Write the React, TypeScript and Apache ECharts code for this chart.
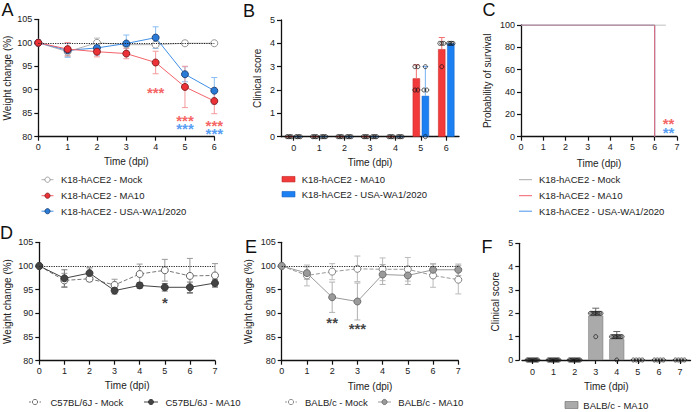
import React, { useEffect, useRef } from 'react';
import * as echarts from 'echarts';

const FONT = '"Liberation Sans", Arial, Helvetica, sans-serif';

// ---------- Panel A : weight change K18-hACE2 ----------
const daysA = [0, 1, 2, 3, 4, 5, 6];
const mockA = [100, 98.1, 100, 99.6, 99.6, 99.9, 99.9];
const mockAErr = [0, 1.0, 1.0, 0.3, 0.3, 0.5, 0.3];
const ma10A = [100, 98.65, 98.1, 97.7, 95.8, 90.6, 87.6];
const ma10AErr = [0, 1.4, 1.1, 1.1, 2.4, 4.4, 2.7];
const waA = [100, 98.4, 98.9, 99.85, 101.1, 93.3, 89.8];
const waAErr = [0, 1.5, 1.5, 1.8, 2.3, 1.6, 2.8];
const starsA = [
  { x: 4, y: 90.0, text: '***', group: 'red' },
  { x: 5, y: 84.2, text: '***', group: 'red' },
  { x: 5, y: 82.3, text: '***', group: 'blue' },
  { x: 6, y: 83.1, text: '***', group: 'red' },
  { x: 6, y: 81.3, text: '***', group: 'blue' },
];
const legendA = ['K18-hACE2 - Mock', 'K18-hACE2 - MA10', 'K18-hACE2 - USA-WA1/2020'];

// ---------- Panel B : clinical score K18-hACE2 ----------
const daysB = ['0', '1', '2', '3', '4', '5', '6'];
const ma10B = [0, 0, 0, 0, 0, 2.5, 3.75];
const ma10BErr = [0, 0, 0, 0, 0, 0.58, 0.5];
const waB = [0, 0, 0, 0, 0, 1.75, 4.0];
const waBErr = [0, 0, 0, 0, 0, 1.26, 0];
const ma10BPoints = [[0, 0, 0, 0], [0, 0, 0, 0], [0, 0, 0, 0], [0, 0, 0, 0], [0, 0, 0, 0], [3, 3, 2, 2], [4, 4, 4, 3]];
const waBPoints = [[0, 0, 0, 0], [0, 0, 0, 0], [0, 0, 0, 0], [0, 0, 0, 0], [0, 0, 0, 0], [3, 2, 2, 0], [4, 4, 4, 4]];
const legendB = ['K18-hACE2 - MA10', 'K18-hACE2 - USA-WA1/2020'];

// ---------- Panel C : survival ----------
const mockC = [[0, 100], [6.5, 100]];
const ma10C = [[0, 100], [6, 100], [6, 0]];
const waC = [[0, 100], [6, 100], [6, 0]];
const starsC = [
  { x: 6.62, y: 14.0, text: '**', group: 'red' },
  { x: 6.62, y: 6.6, text: '**', group: 'blue' },
];
const legendC = ['K18-hACE2 - Mock', 'K18-hACE2 - MA10', 'K18-hACE2 - USA-WA1/2020'];

// ---------- Panel D : C57BL/6J ----------
const daysD = [0, 1, 2, 3, 4, 5, 6, 7];
const mockD = [100, 96.95, 97.3, 96.0, 98.3, 99.1, 97.9, 98.0];
const mockDErr = [0, 1.5, 0.6, 1.2, 2.1, 2.3, 3.7, 2.5];
const ma10D = [100, 97.4, 98.5, 94.8, 95.9, 95.5, 95.5, 96.4];
const ma10DErr = [0, 1.8, 1.1, 0.7, 0.6, 0.8, 1.1, 0.8];
const starsD = [{ x: 5, y: 92.9, text: '*', group: 'black' }];
const legendD = ['C57BL/6J - Mock', 'C57BL/6J - MA10'];

// ---------- Panel E : BALB/c ----------
const daysE = [0, 1, 2, 3, 4, 5, 6, 7];
const mockE = [100, 98.0, 98.8, 99.4, 99.3, 99.3, 98.0, 97.1];
const mockEErr = [0, 2.2, 1.7, 2.7, 2.4, 2.5, 2.5, 3.0];
const ma10E = [100, 98.5, 93.4, 92.5, 98.2, 98.0, 99.2, 99.2];
const ma10EErr = [0, 1.3, 3.2, 3.9, 2.1, 1.9, 1.2, 1.2];
const starsE = [
  { x: 2, y: 88.6, text: '**', group: 'black' },
  { x: 3, y: 87.4, text: '***', group: 'black' },
];
const legendE = ['BALB/c - Mock', 'BALB/c - MA10'];

// ---------- Panel F : clinical score BALB/c ----------
const daysF = ['0', '1', '2', '3', '4', '5', '6', '7'];
const ma10F = [0, 0, 0, 1.9, 0.9, 0, 0, 0];
const ma10FErr = [0, 0, 0, 0.32, 0.32, 0, 0, 0];
const ma10FPoints = [
  [0, 0, 0, 0, 0, 0, 0, 0, 0, 0],
  [0, 0, 0, 0, 0, 0, 0, 0, 0, 0],
  [0, 0, 0, 0, 0, 0, 0, 0, 0, 0],
  [2, 2, 2, 2, 2, 2, 2, 2, 2, 1],
  [1, 1, 1, 1, 1, 1, 1, 1, 1, 0],
  [0, 0, 0, 0],
  [0, 0, 0, 0],
  [0, 0, 0, 0],
];
const legendF = ['BALB/c - MA10'];

const panelLetters = ['A', 'B', 'C', 'D', 'E', 'F'];

// colours
const C = {
  red: '#ec3237', redLine: '#f2636a', redErr: '#f59a9c', redDark: '#7a1a1c',
  blue: '#2a7ad8', blueLine: '#4090e6', blueErr: '#88bdf2', blueDark: '#1c3f70',
  redBar: '#f23a3a', blueBar: '#1d80f2',
  grey: '#b0b0b0', black: '#111111',
};
const starColor: any = { red: '#f23c3c', blue: '#2a84f0', black: '#111111' };

function valueAxis(gridIndex: number, min: number, max: number, interval: number, name: string, nameGap: number, extra: any = {}) {
  return {
    type: 'value', gridIndex, min, max, interval, name, nameGap, nameLocation: 'middle',
    nameTextStyle: { fontSize: 10, color: '#222', fontFamily: FONT },
    axisLine: { show: true, onZero: false, lineStyle: { color: '#111', width: 1.3 } },
    axisTick: { show: true, length: 4, lineStyle: { color: '#111', width: 1.2 } },
    axisLabel: { fontSize: 9, color: '#222', fontFamily: FONT, margin: 6 },
    splitLine: { show: false },
    ...extra,
  };
}
function catAxis(gridIndex: number, data: string[], name: string, nameGap: number) {
  return {
    type: 'category', gridIndex, data, name, nameGap, nameLocation: 'middle',
    nameTextStyle: { fontSize: 10, color: '#222', fontFamily: FONT },
    axisLine: { show: true, lineStyle: { color: '#111', width: 1.3 } },
    axisTick: { show: true, alignWithLabel: true, length: 4, lineStyle: { color: '#111', width: 1.2 } },
    axisLabel: { fontSize: 9, color: '#222', fontFamily: FONT, margin: 7, interval: 0 },
    splitLine: { show: false },
  };
}

function errorBars(o: any) {
  const { xAxisIndex, yAxisIndex, xs, means, errs, color, cap, dx = 0, upOnly = false, z = 2 } = o;
  return {
    type: 'custom', xAxisIndex, yAxisIndex, z, silent: true,
    data: xs.map((x: any, i: number) => [typeof x === 'string' ? i : x, means[i], errs[i]]),
    encode: { x: 0, y: 1 },
    renderItem: (_p: any, api: any) => {
      const x = api.value(0), m = api.value(1), e = api.value(2);
      if (!e) return { type: 'group', children: [] };
      const top = api.coord([x, m + e]);
      const bot = api.coord([x, upOnly ? m : m - e]);
      const X = top[0] + dx;
      const st = { stroke: color, lineWidth: 1 };
      const ch: any[] = [
        { type: 'line', shape: { x1: X, y1: top[1], x2: X, y2: bot[1] }, style: st },
        { type: 'line', shape: { x1: X - cap, y1: top[1], x2: X + cap, y2: top[1] }, style: st },
      ];
      if (!upOnly) ch.push({ type: 'line', shape: { x1: X - cap, y1: bot[1], x2: X + cap, y2: bot[1] }, style: st });
      return { type: 'group', children: ch };
    },
  };
}

// stars sharing the same x are stacked into a single rich-text label
function starSeries(xAxisIndex: number, yAxisIndex: number, items: any[]) {
  const groups: any = {};
  items.forEach((s) => (groups[s.x] = groups[s.x] || []).push(s));
  const data = Object.keys(groups).map((k) => {
    const list = groups[k].slice().sort((a: any, b: any) => b.y - a.y);
    const y = list.reduce((acc: number, s: any) => acc + s.y, 0) / list.length;
    const text = list.map((s: any) => `{${s.group}|${s.text}}`).join('\n');
    return { name: text, value: [list[0].x, y] };
  });
  const tok = (color: string) => ({ color, fontSize: 15, fontWeight: 'bold', fontFamily: FONT, lineHeight: 8.5 });
  return {
    type: 'scatter', xAxisIndex, yAxisIndex, z: 6, silent: true, symbolSize: 1,
    itemStyle: { color: 'rgba(0,0,0,0)' },
    data,
    label: {
      show: true, position: 'inside', formatter: '{b}', lineHeight: 8.5, offset: [0, 3],
      rich: { red: tok(starColor.red), blue: tok(starColor.blue), black: tok(starColor.black) },
    },
  };
}

function jitterItems(pointsByDay: number[][], groupDx: number, maxSpan: number) {
  const items: any[] = [];
  pointsByDay.forEach((vals, day) => {
    const counts: any = {};
    vals.forEach((v) => (counts[v] = (counts[v] || 0) + 1));
    const seen: any = {};
    vals.forEach((v) => {
      const n = counts[v];
      seen[v] = seen[v] === undefined ? 0 : seen[v] + 1;
      const k = seen[v];
      const step = Math.min(3, maxSpan / n);
      items.push({ value: [day, v], symbolOffset: [groupDx + (k - (n - 1) / 2) * step, 0] });
    });
  });
  return items;
}

function weightLine(name: string, xi: number, xs: number[], ys: number[], o: any) {
  return {
    type: 'line', name, xAxisIndex: xi, yAxisIndex: xi, z: 3, silent: true,
    data: xs.map((x, i) => [x, ys[i]]),
    symbol: 'circle', symbolSize: o.size || 7, showSymbol: true,
    lineStyle: { color: o.line, width: 1, type: o.dash ? 'dashed' : 'solid' },
    itemStyle: { color: o.fill, borderColor: o.border, borderWidth: 0.9 },
  };
}

const refLine = {
  silent: true, symbol: 'none', label: { show: false },
  lineStyle: { type: 'dotted', color: '#222', width: 1.2 },
  data: [{ yAxis: 100 }],
};

function legendGraphics() {
  const g: any[] = [];
  const txt = (x: number, y: number, t: string) =>
    g.push({ type: 'text', x, y, style: { text: t, fill: '#222', fontSize: 9.5, fontFamily: FONT, verticalAlign: 'middle', align: 'left' } });
  const ln = (x1: number, x2: number, y: number, stroke: string, dash?: boolean) =>
    g.push({ type: 'line', shape: { x1, y1: y, x2, y2: y }, style: { stroke, lineWidth: 1, lineDash: dash ? [2, 1.5] : null } });
  const dot = (cx: number, cy: number, fill: string, stroke: string) =>
    g.push({ type: 'circle', shape: { cx, cy, r: 2.6 }, style: { fill, stroke, lineWidth: 0.8 } });
  const box = (x: number, cy: number, w: number, h: number, fill: string, stroke: string) =>
    g.push({ type: 'rect', shape: { x, y: cy - h / 2, width: w, height: h }, style: { fill, stroke, lineWidth: 0.6 } });

  // A
  const rowsA = [179.7, 195.7, 211.2];
  const styleA = [
    { line: C.grey, fill: '#fff', border: '#8a8a8a' },
    { line: C.redLine, fill: C.red, border: C.redDark },
    { line: C.blueLine, fill: C.blue, border: C.blueDark },
  ];
  legendA.forEach((t, i) => {
    ln(41.5, 53.5, rowsA[i], styleA[i].line);
    dot(47.5, rowsA[i], styleA[i].fill, styleA[i].border);
    txt(61, rowsA[i], t);
  });
  // B
  const rowsB = [179.2, 194.2];
  const fillB = [C.redBar, C.blueBar];
  const strokeB = ['#c02222', '#1560c0'];
  legendB.forEach((t, i) => {
    box(282, rowsB[i], 13, 5.5, fillB[i], strokeB[i]);
    txt(301.7, rowsB[i], t);
  });
  // C
  const lineC = ['#aaaaaa', '#f0606a', '#4a95ea'];
  legendC.forEach((t, i) => {
    ln(519, 532, rowsA[i], lineC[i]);
    txt(539, rowsA[i], t);
  });
  // D
  const yD = 402;
  ln(29, 41, yD, '#777', true); dot(35, yD, '#fff', '#555'); txt(50.5, yD, legendD[0]);
  ln(144, 158, yD, '#444'); dot(151, yD, '#444', '#333'); txt(165.5, yD, legendD[1]);
  // E
  ln(285, 297, yD, '#999', true); dot(291, yD, '#fff', '#777'); txt(305, yD, legendE[0]);
  ln(378, 391, yD, '#999'); dot(384.5, yD, '#9a9a9a', '#666'); txt(398.3, yD, legendE[1]);
  // F
  box(565, 405, 13, 7, '#aaaaaa', '#666');
  txt(583.3, 405, legendF[0]);

  // panel letters
  const letterPos = [[1.5, 10], [243, 11], [482.5, 10], [0, 233], [245, 246.5], [481.5, 246.5]];
  panelLetters.forEach((L, i) =>
    g.push({ type: 'text', x: letterPos[i][0], y: letterPos[i][1], style: { text: L, fill: '#111', fontSize: 18, fontFamily: FONT, verticalAlign: 'middle', align: 'left' } })
  );
  return g;
}

function buildOption() {
  const series: any[] = [];

  // ---- A ----
  series.push(errorBars({ xAxisIndex: 0, yAxisIndex: 0, xs: daysA, means: mockA, errs: mockAErr, color: '#bdbdbd', cap: 3 }));
  series.push(errorBars({ xAxisIndex: 0, yAxisIndex: 0, xs: daysA, means: waA, errs: waAErr, color: C.blueErr, cap: 3 }));
  series.push(errorBars({ xAxisIndex: 0, yAxisIndex: 0, xs: daysA, means: ma10A, errs: ma10AErr, color: C.redErr, cap: 3 }));
  series.push({ ...weightLine(legendA[0], 0, daysA, mockA, { line: C.grey, fill: '#fff', border: '#8a8a8a' }), markLine: refLine });
  series.push(weightLine(legendA[2], 0, daysA, waA, { line: C.blueLine, fill: C.blue, border: C.blueDark }));
  series.push(weightLine(legendA[1], 0, daysA, ma10A, { line: C.redLine, fill: C.red, border: C.redDark }));
  series.push(starSeries(0, 0, starsA));

  // ---- B ----
  series.push({
    type: 'bar', name: legendB[0], xAxisIndex: 1, yAxisIndex: 1, data: ma10B, barWidth: 7.3, barGap: '24%', z: 2, silent: true,
    itemStyle: { color: C.redBar, borderColor: '#c42222', borderWidth: 0.5 },
  });
  series.push({
    type: 'bar', name: legendB[1], xAxisIndex: 1, yAxisIndex: 1, data: waB, barWidth: 7.3, z: 2, silent: true,
    itemStyle: { color: C.blueBar, borderColor: '#1560c0', borderWidth: 0.5 },
  });
  series.push(errorBars({ xAxisIndex: 1, yAxisIndex: 1, xs: daysB, means: ma10B, errs: ma10BErr, color: '#f47070', cap: 3, dx: -4.5, upOnly: true, z: 3 }));
  series.push(errorBars({ xAxisIndex: 1, yAxisIndex: 1, xs: daysB, means: waB, errs: waBErr, color: '#76b0f2', cap: 3, dx: 4.5, upOnly: true, z: 3 }));
  [ma10BPoints, waBPoints].forEach((pts, gi) =>
    series.push({
      type: 'scatter', xAxisIndex: 1, yAxisIndex: 1, z: 4, silent: true, symbol: 'circle', symbolSize: 4,
      itemStyle: { color: 'rgba(255,255,255,0)', borderColor: '#111', borderWidth: 0.9 },
      data: jitterItems(pts, gi === 0 ? -4.5 : 4.5, 6),
    })
  );

  // ---- C ----
  series.push({ type: 'line', name: legendC[2], xAxisIndex: 2, yAxisIndex: 2, data: waC, symbol: 'none', silent: true, lineStyle: { color: '#4a95ea', width: 1 }, z: 2 });
  series.push({ type: 'line', name: legendC[1], xAxisIndex: 2, yAxisIndex: 2, data: ma10C, symbol: 'none', silent: true, lineStyle: { color: '#f0606a', width: 1 }, z: 3 });
  series.push({ type: 'line', name: legendC[0], xAxisIndex: 2, yAxisIndex: 2, data: mockC, symbol: 'none', silent: true, lineStyle: { color: '#9a9a9a', width: 1, opacity: 0.85 }, z: 4 });
  series.push(starSeries(2, 2, starsC));

  // ---- D ----
  series.push(errorBars({ xAxisIndex: 3, yAxisIndex: 3, xs: daysD, means: mockD, errs: mockDErr, color: '#9a9a9a', cap: 3 }));
  series.push(errorBars({ xAxisIndex: 3, yAxisIndex: 3, xs: daysD, means: ma10D, errs: ma10DErr, color: '#777', cap: 3 }));
  series.push({ ...weightLine(legendD[0], 3, daysD, mockD, { line: '#777', fill: '#fff', border: '#555', dash: true }), markLine: refLine });
  series.push(weightLine(legendD[1], 3, daysD, ma10D, { line: '#444', fill: '#444', border: '#333' }));
  series.push(starSeries(3, 3, starsD));

  // ---- E ----
  series.push(errorBars({ xAxisIndex: 4, yAxisIndex: 4, xs: daysE, means: mockE, errs: mockEErr, color: '#bbbbbb', cap: 3 }));
  series.push(errorBars({ xAxisIndex: 4, yAxisIndex: 4, xs: daysE, means: ma10E, errs: ma10EErr, color: '#b0b0b0', cap: 3 }));
  series.push({ ...weightLine(legendE[0], 4, daysE, mockE, { line: '#999', fill: '#fff', border: '#777', dash: true }), markLine: refLine });
  series.push(weightLine(legendE[1], 4, daysE, ma10E, { line: '#999', fill: '#9a9a9a', border: '#666' }));
  series.push(starSeries(4, 4, starsE));

  // ---- F ----
  series.push({
    type: 'bar', name: legendF[0], xAxisIndex: 5, yAxisIndex: 5, data: ma10F, barWidth: 15, z: 2, silent: true,
    itemStyle: { color: '#aaaaaa', borderColor: '#777', borderWidth: 0.5 },
  });
  series.push(errorBars({ xAxisIndex: 5, yAxisIndex: 5, xs: daysF, means: ma10F, errs: ma10FErr, color: '#666', cap: 3.5, upOnly: true, z: 3 }));
  series.push({
    type: 'scatter', xAxisIndex: 5, yAxisIndex: 5, z: 4, silent: true, symbol: 'circle', symbolSize: 4,
    itemStyle: { color: 'rgba(255,255,255,0)', borderColor: '#111', borderWidth: 0.9 },
    data: jitterItems(ma10FPoints, 0, 12),
  });

  return {
    animation: false,
    backgroundColor: '#ffffff',
    textStyle: { fontFamily: FONT },
    grid: [
      { left: 38.3, top: 19.3, width: 176, height: 117.4 },
      { left: 281, top: 20, width: 178, height: 116.7 },
      { left: 521, top: 25, width: 156, height: 111.7 },
      { left: 39.3, top: 242.3, width: 175.7, height: 118.4 },
      { left: 281.7, top: 242.3, width: 176.6, height: 118.4 },
      { left: 522, top: 243.3, width: 168.5, height: 116.7 },
    ],
    xAxis: [
      valueAxis(0, 0, 6, 1, 'Time (dpi)', 20),
      catAxis(1, daysB, 'Time (dpi)', 21),
      valueAxis(2, 0, 7, 1, 'Time (dpi)', 21.5),
      valueAxis(3, 0, 7, 1, 'Time (dpi)', 20),
      valueAxis(4, 0, 7, 1, 'Time (dpi)', 21),
      catAxis(5, daysF, 'Time (dpi)', 21.5),
    ],
    yAxis: [
      valueAxis(0, 80, 105, 5, 'Weight change (%)', 26),
      valueAxis(1, 0, 5, 1, 'Clinical score', 19),
      valueAxis(2, 0, 100, 20, 'Probability of survival', 29),
      valueAxis(3, 80, 105, 5, 'Weight change (%)', 27),
      valueAxis(4, 80, 105, 5, 'Weight change (%)', 28),
      valueAxis(5, 0, 5, 1, 'Clinical score', 19, { offset: 2.7 }),
    ],
    series,
    graphic: legendGraphics(),
  };
}

export default function App() {
  const ref = useRef<HTMLDivElement>(null);
  useEffect(() => {
    document.body.style.margin = '0';
    const chart = echarts.init(ref.current as HTMLDivElement, undefined, { renderer: 'svg' });
    chart.setOption(buildOption() as any);
    return () => chart.dispose();
  }, []);
  return <div ref={ref} style={{ width: 696, height: 412, position: 'absolute', left: 0, top: 0, background: '#fff' }} />;
}
